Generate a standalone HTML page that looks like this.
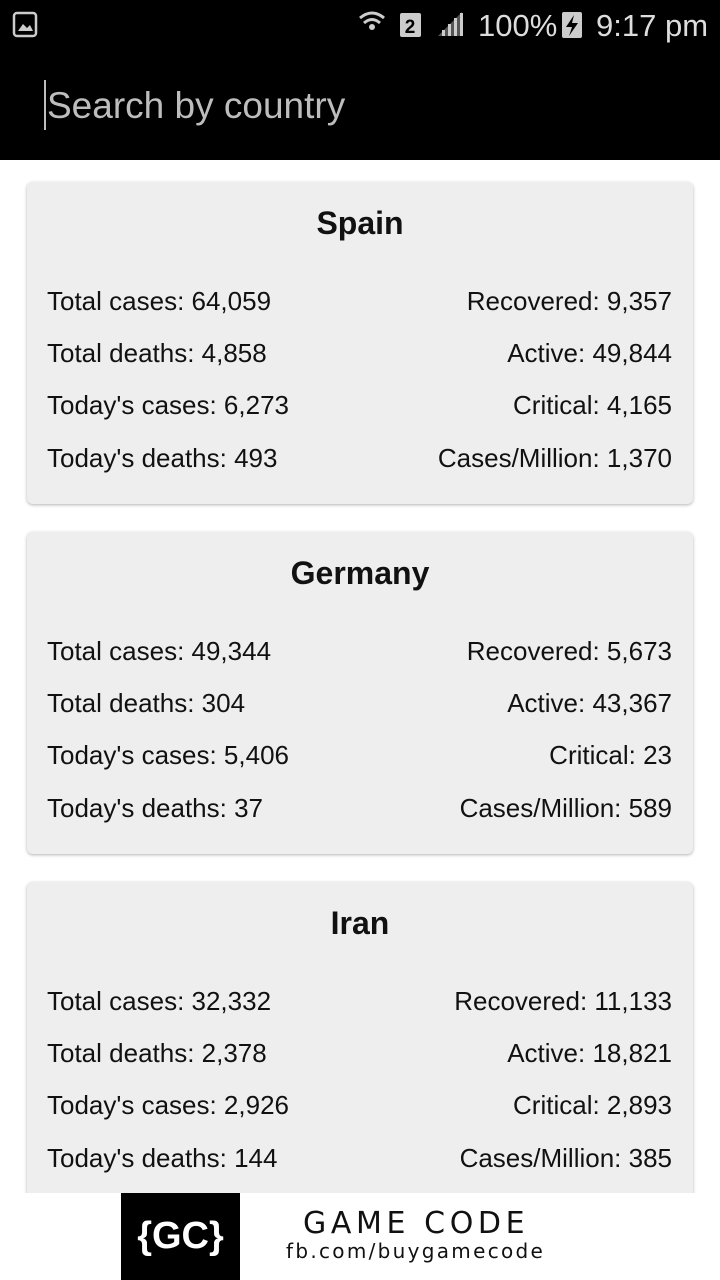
<!DOCTYPE html>
<html><head><meta charset="utf-8">
<style>
*{margin:0;padding:0;box-sizing:border-box}
body{width:720px;height:1280px;position:relative;overflow:hidden;background:#fff;font-family:"Liberation Sans",sans-serif}
.status{position:absolute;left:0;top:0;width:720px;height:50px;background:#000;color:#ddd}
.appbar{position:absolute;left:0;top:50px;width:720px;height:110px;background:#000}
.search{position:absolute;left:47px;top:84px;font-size:37px;color:#bdbdbd;line-height:44px}
.caret{position:absolute;left:44px;top:80px;width:2px;height:50px;background:#bdbdbd}
.card{position:absolute;left:27px;width:666px;height:322px;background:#eeeeee;border-radius:6px;box-shadow:0 1px 3px rgba(0,0,0,.3)}
.title{position:absolute;left:0;width:100%;top:23px;text-align:center;font-weight:bold;font-size:32px;color:#111}
.row{position:absolute;left:20px;right:21px;font-size:26px;color:#111;height:30px;line-height:30px}
.row .l{position:absolute;left:0}
.row .r{position:absolute;right:0}
.banner{position:absolute;left:0;top:1193px;width:720px;height:87px;background:#fff}
.gc{position:absolute;left:121px;top:0;width:119px;height:87px;background:#000;color:#fff;font-weight:bold;font-size:38px;text-align:center;line-height:87px}
.t1{position:absolute;left:303px;top:13px;font-size:30px;color:#111;letter-spacing:4.6px;font-family:"DejaVu Sans",sans-serif}
.t2{position:absolute;left:286px;top:46px;font-size:20px;color:#111;letter-spacing:2.3px;font-family:"DejaVu Sans",sans-serif}
</style></head><body>
<div class="status">
<svg width="720" height="50" style="position:absolute;left:0;top:0">
<rect x="14" y="13" width="22" height="23" rx="3" fill="none" stroke="#ccc" stroke-width="2.5"/>
<path d="M18 31 L23 24 L27 28 L30 25 L33 31 Z" fill="#ccc"/>
<path d="M360 18 Q372 8 384 18" fill="none" stroke="#ccc" stroke-width="3"/>
<path d="M364 23 Q372 16 380 23" fill="none" stroke="#ccc" stroke-width="3"/>
<circle cx="372" cy="27" r="3" fill="#ccc"/>
<rect x="400" y="13" width="21" height="24" rx="2" fill="#ccc"/>
<text x="410" y="33" font-size="19" font-weight="bold" text-anchor="middle" fill="#000" font-family="Liberation Sans">2</text>
<path d="M438 36 L462 12 L462 36 Z" fill="#555"/>
<rect x="442" y="30" width="3" height="6" fill="#ccc"/><rect x="448" y="24" width="3" height="12" fill="#ccc"/><rect x="454" y="18" width="3" height="18" fill="#ccc"/><rect x="460" y="13" width="3" height="23" fill="#ccc"/>
<text x="478" y="36" font-size="31" fill="#ddd" font-family="Liberation Sans">100%</text>
<rect x="562" y="12" width="20" height="26" rx="2" fill="#ccc"/>
<path d="M574 15 L566 27 L572 27 L569 36 L578 23 L572 23 Z" fill="#000"/>
<text x="596" y="36" font-size="31" fill="#ddd" font-family="Liberation Sans">9:17 pm</text>
</svg>
</div>
<div class="appbar"></div>
<div class="caret"></div>
<div class="search">Search by country</div>

<div class="card" style="top:182px">
<div class="title">Spain</div>
<div class="row" style="top:104px"><span class="l">Total cases: 64,059</span><span class="r">Recovered: 9,357</span></div>
<div class="row" style="top:156px"><span class="l">Total deaths: 4,858</span><span class="r">Active: 49,844</span></div>
<div class="row" style="top:208px"><span class="l">Today's cases: 6,273</span><span class="r">Critical: 4,165</span></div>
<div class="row" style="top:261px"><span class="l">Today's deaths: 493</span><span class="r">Cases/Million: 1,370</span></div>
</div>

<div class="card" style="top:532px">
<div class="title">Germany</div>
<div class="row" style="top:104px"><span class="l">Total cases: 49,344</span><span class="r">Recovered: 5,673</span></div>
<div class="row" style="top:156px"><span class="l">Total deaths: 304</span><span class="r">Active: 43,367</span></div>
<div class="row" style="top:208px"><span class="l">Today's cases: 5,406</span><span class="r">Critical: 23</span></div>
<div class="row" style="top:261px"><span class="l">Today's deaths: 37</span><span class="r">Cases/Million: 589</span></div>
</div>

<div class="card" style="top:882px">
<div class="title">Iran</div>
<div class="row" style="top:104px"><span class="l">Total cases: 32,332</span><span class="r">Recovered: 11,133</span></div>
<div class="row" style="top:156px"><span class="l">Total deaths: 2,378</span><span class="r">Active: 18,821</span></div>
<div class="row" style="top:208px"><span class="l">Today's cases: 2,926</span><span class="r">Critical: 2,893</span></div>
<div class="row" style="top:261px"><span class="l">Today's deaths: 144</span><span class="r">Cases/Million: 385</span></div>
</div>

<div class="banner">
<div class="gc">{GC}</div>
<div class="t1">GAME CODE</div>
<div class="t2">fb.com/buygamecode</div>
</div>
</body></html>
